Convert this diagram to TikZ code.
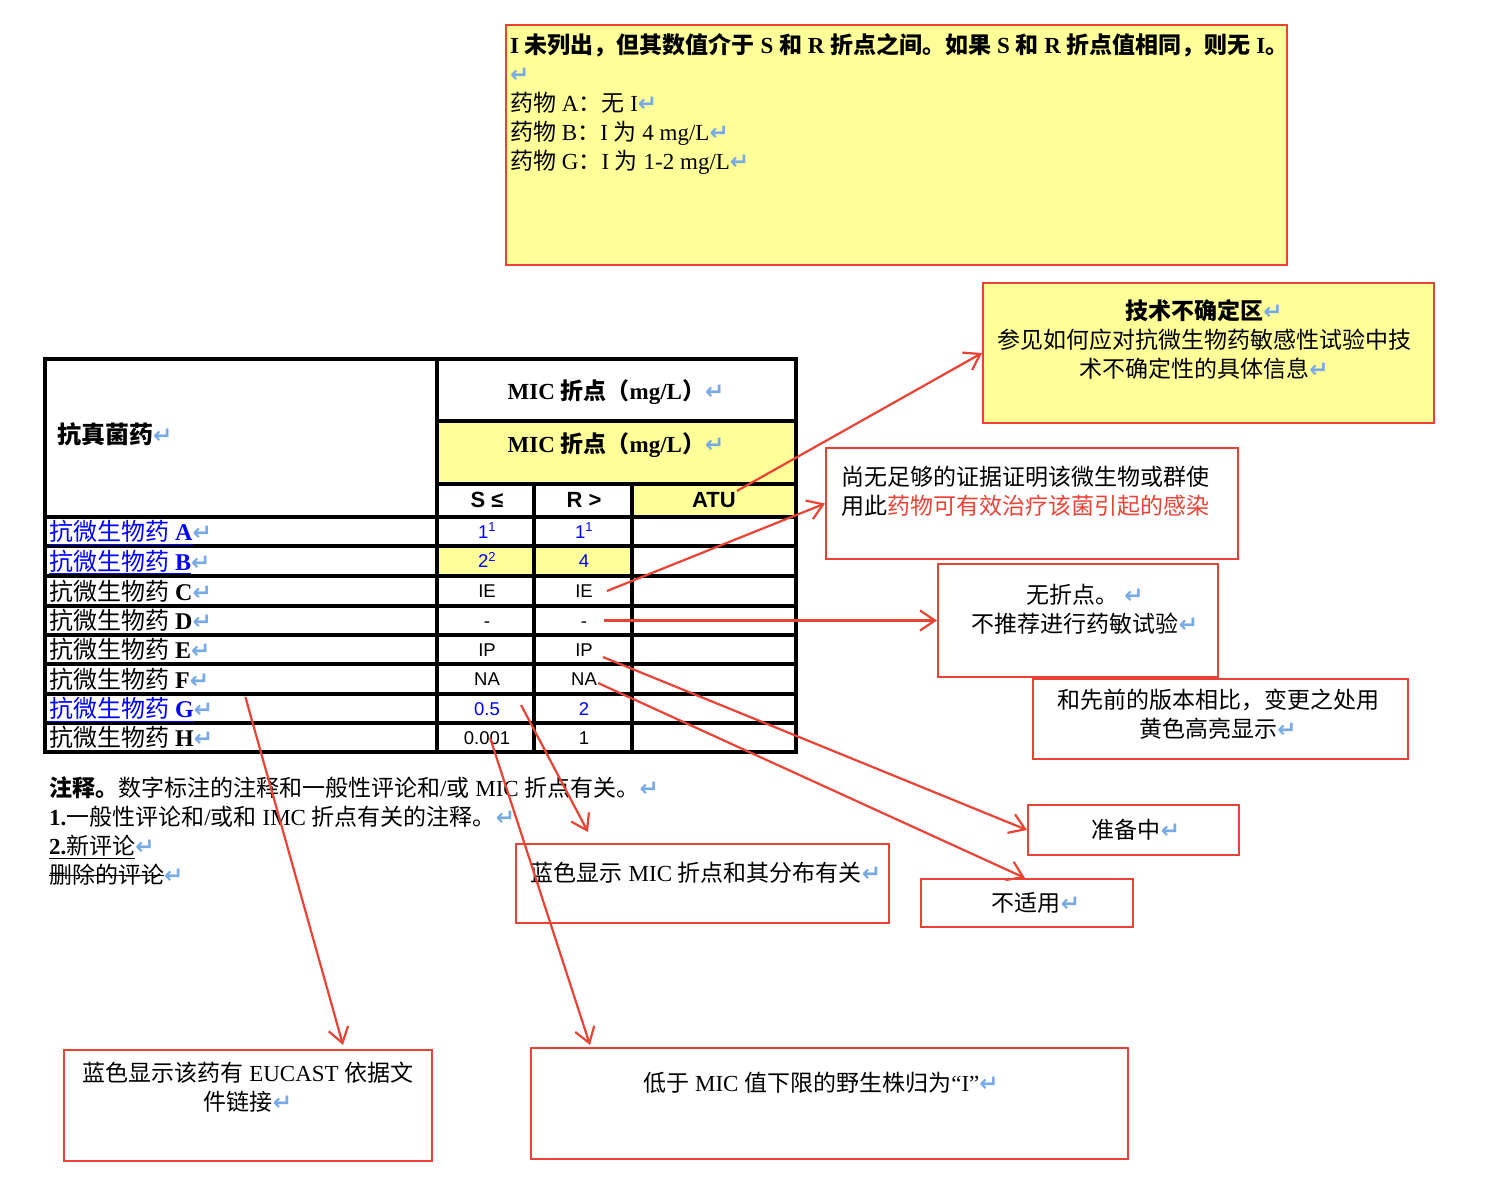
\documentclass[tikz,border=0pt]{standalone}
\usepackage{fontspec}
\setmainfont{Liberation Serif}
\setsansfont{Liberation Sans}
\newfontfamily\cjk{Noto Sans CJK SC}
\newfontfamily\dejavu{DejaVu Sans}
\usetikzlibrary{arrows.meta}

\definecolor{hiyel}{RGB}{255,255,153}
\definecolor{lred}{RGB}{234,67,53}
\definecolor{linkblue}{RGB}{0,0,255}
\definecolor{pmblue}{RGB}{120,170,230}

\newcommand\zh[1]{{\cjk #1}}
\newcommand\zhb[1]{{\cjk\bfseries #1}}
\newcommand\pmark{{\dejavu\bfseries\fontsize{23}{23}\selectfont\color{pmblue}↵}}
\newsavebox\strikebox
\newcommand\strike[1]{\sbox\strikebox{#1}\makebox[0pt][l]{\rule[0.33em]{\wd\strikebox}{1.4pt}}\usebox\strikebox}

\begin{document}
\begin{tikzpicture}[x=1pt, y=-1pt,
  redbox/.style={draw=lred, line width=2pt, anchor=north west, inner sep=0pt},
  grid/.style={line width=3.2pt, black},
  zhtext/.style={font=\fontsize{23}{29}\selectfont, inner sep=0pt, align=center},
  lab/.style={font=\fontsize{24}{26}\selectfont, anchor=west, inner sep=0pt, text height=18pt, text depth=0pt},
  cell/.style={font=\sffamily\fontsize{18.5}{20}\selectfont, inner sep=1pt, text height=13.3pt, text depth=0pt},
  colhead/.style={font=\sffamily\bfseries\fontsize{22}{24}\selectfont, inner sep=1pt, text height=15.8pt, text depth=0pt},
  callout/.style={draw=lred, line width=2.2pt, -{Straight Barb[length=15pt,width=20pt]}}
]
\useasboundingbox (0,0) rectangle (1496,1184);

% boxes
\node[redbox, fill=hiyel, minimum width=781pt, minimum height=240pt] (cond) at (505,24) {};
\node[redbox, fill=hiyel, minimum width=451pt, minimum height=140pt] (tech) at (982,282) {};
\node[redbox, minimum width=412pt, minimum height=111pt] (nodata) at (825,447) {};
\node[redbox, minimum width=280pt, minimum height=113pt] (nobp) at (937,563) {};
\node[redbox, minimum width=375pt, minimum height=80pt] (change) at (1032,678) {};
\node[redbox, minimum width=211pt, minimum height=50pt] (prep) at (1027,804) {};
\node[redbox, minimum width=212pt, minimum height=48pt] (na) at (920,878) {};
\node[redbox, minimum width=373pt, minimum height=79pt] (mic) at (515,843) {};
\node[redbox, minimum width=368pt, minimum height=111pt] (link) at (63,1049) {};
\node[redbox, minimum width=597pt, minimum height=111pt] (low) at (530,1047) {};

% box texts
\node[zhtext, align=left, anchor=north west] (condtxt) at (510,33)
  {\textbf{I \zhb{未列出，但其数值介于} S \zhb{和} R \zhb{折点之间。如果} S \zhb{和} R \zhb{折点值相同，则无} I\zhb{。}}\\
   \pmark\\
   \zh{药物} A\zh{：无} I\pmark\\
   \zh{药物} B\zh{：}I \zh{为} 4 mg/L\pmark\\
   \zh{药物} G\zh{：}I \zh{为} 1-2 mg/L\pmark};
\node[zhtext, anchor=north] (techtxt) at (1204,299)
  {\zhb{技术不确定区}\pmark\\ \zh{参见如何应对抗微生物药敏感性试验中技}\\ \zh{术不确定性的具体信息}\pmark};
\node[zhtext, align=left, anchor=north west] (nodatatxt) at (841,466)
  {\zh{尚无足够的证据证明该微生物或群使}\\ \zh{用此}\textcolor{lred}{\zh{药物可有效治疗该菌引起的感染}}};
\node[zhtext, anchor=north] (nobptxt) at (1085,584)
  {\zh{无折点。} \pmark\\ \zh{不推荐进行药敏试验}\pmark};
\node[zhtext, anchor=north] (changetxt) at (1218,689)
  {\zh{和先前的版本相比，变更之处用}\\ \zh{黄色高亮显示}\pmark};
\node[zhtext] (preptxt) at (1136,830) {\zh{准备中}\pmark};
\node[zhtext] (natxt) at (1036,903) {\zh{不适用}\pmark};
\node[zhtext] (mictxt) at (706,873) {\zh{蓝色显示} MIC \zh{折点和其分布有关}\pmark};
\node[zhtext, anchor=north] (linktxt) at (248,1062)
  {\zh{蓝色显示该药有} EUCAST \zh{依据文}\\ \zh{件链接}\pmark};
\node[zhtext] (lowtxt) at (821,1083) {\zh{低于} MIC \zh{值下限的野生株归为}“I”\pmark};

% table fills
\fill[hiyel] (437,421) rectangle (796,484);
\fill[hiyel] (632,484) rectangle (796,517);
\fill[hiyel] (437,546) rectangle (632,576);
% table lines
\draw[grid] (45,359) rectangle (796,752);
\draw[grid] (437,359) -- (437,752);
\draw[grid] (534,484) -- (534,752);
\draw[grid] (632,484) -- (632,752);
\draw[grid] (437,421) -- (796,421);
\draw[grid] (437,484) -- (796,484);
\foreach \y in {517,546,576,606,635,664,694,723}
  \draw[grid] (45,\y) -- (796,\y);

% table header
\node[lab] (hdr) at (57,434) {\zhb{抗真菌药}\pmark};
\node[zhtext] (mictop) at (616,392) {\textbf{MIC \zhb{折点（}mg/L\zhb{）}}\pmark};
\node[zhtext] (micyel) at (616,445) {\textbf{MIC \zhb{折点（}mg/L\zhb{）}}\pmark};
\node[colhead] (hS) at (487,500) {S ≤};
\node[colhead] (hR) at (584,500) {R >};
\node[colhead] (atu) at (714,500) {ATU};

% table rows
\node[lab] (labA) at (49,531.5) {\textcolor{linkblue}{\underline{\zh{抗微生物药} \textbf{A}}}\pmark};
\node[lab] (labB) at (49,561) {\textcolor{linkblue}{\underline{\zh{抗微生物药} \textbf{B}}}\pmark};
\node[lab] (labC) at (49,591) {\zh{抗微生物药} \textbf{C}\pmark};
\node[lab] (labD) at (49,620.5) {\zh{抗微生物药} \textbf{D}\pmark};
\node[lab] (labE) at (49,649.5) {\zh{抗微生物药} \textbf{E}\pmark};
\node[lab] (labF) at (49,679) {\zh{抗微生物药} \textbf{F}\pmark};
\node[lab] (labG) at (49,708.5) {\textcolor{linkblue}{\underline{\zh{抗微生物药} \textbf{G}}}\pmark};
\node[lab] (labH) at (49,737.5) {\zh{抗微生物药} \textbf{H}\pmark};

\node[cell, linkblue] (sA) at (487,531.5) {1\textsuperscript{1}};
\node[cell, linkblue] (rA) at (584,531.5) {1\textsuperscript{1}};
\node[cell, linkblue] (sB) at (487,561) {2\textsuperscript{2}};
\node[cell, linkblue] (rB) at (584,561) {4};
\node[cell] (sC) at (487,591) {IE};
\node[cell] (rC) at (584,591) {IE};
\node[cell] (sD) at (487,620.5) {-};
\node[cell] (rD) at (584,620.5) {-};
\node[cell] (sE) at (487,649.5) {IP};
\node[cell] (rE) at (584,649.5) {IP};
\node[cell] (sF) at (487,679) {NA};
\node[cell] (rF) at (584,679) {NA};
\node[cell, linkblue] (sG) at (487,708.5) {0.5};
\node[cell, linkblue] (rG) at (584,708.5) {2};
\node[cell] (sH) at (487,737.5) {0.001};
\node[cell] (rH) at (584,737.5) {1};

% notes under the table
\node[zhtext, align=left, anchor=north west] (notes) at (49,777)
  {\zhb{注释。}\zh{数字标注的注释和一般性评论和}/\zh{或} MIC \zh{折点有关。}\pmark\\
   \textbf{1.}\zh{一般性评论和}/\zh{或和} IMC \zh{折点有关的注释。}\pmark\\
   \underline{\textbf{2.}\zh{新评论}}\pmark\\
   \strike{\zh{删除的评论}}\pmark};

% callouts
\draw[callout] (atu.north east) -- (tech.west);
\draw[callout] ([xshift=13pt]rC.east) -- (nodata.west);
\draw[callout] ([xshift=16pt]rD.east) -- (nobp.west);
\draw[callout] ([xshift=9pt,yshift=-7.5pt]rE.east) -- (prep.west);
\draw[callout] ([yshift=-4pt]rF.east) -- ([xshift=105pt]na.north west);
\draw[callout] ([xshift=32pt,yshift=2.5pt]labG.north east) -- ([xshift=280pt,yshift=4pt]link.north west);
\draw[callout] ([xshift=20pt,yshift=3.5pt]sG.east) -- ([xshift=73pt,yshift=11pt]mic.north west);
\draw[callout] ([xshift=3pt]sH.center) -- ([xshift=60pt,yshift=2pt]low.north west);
\end{tikzpicture}
\end{document}
